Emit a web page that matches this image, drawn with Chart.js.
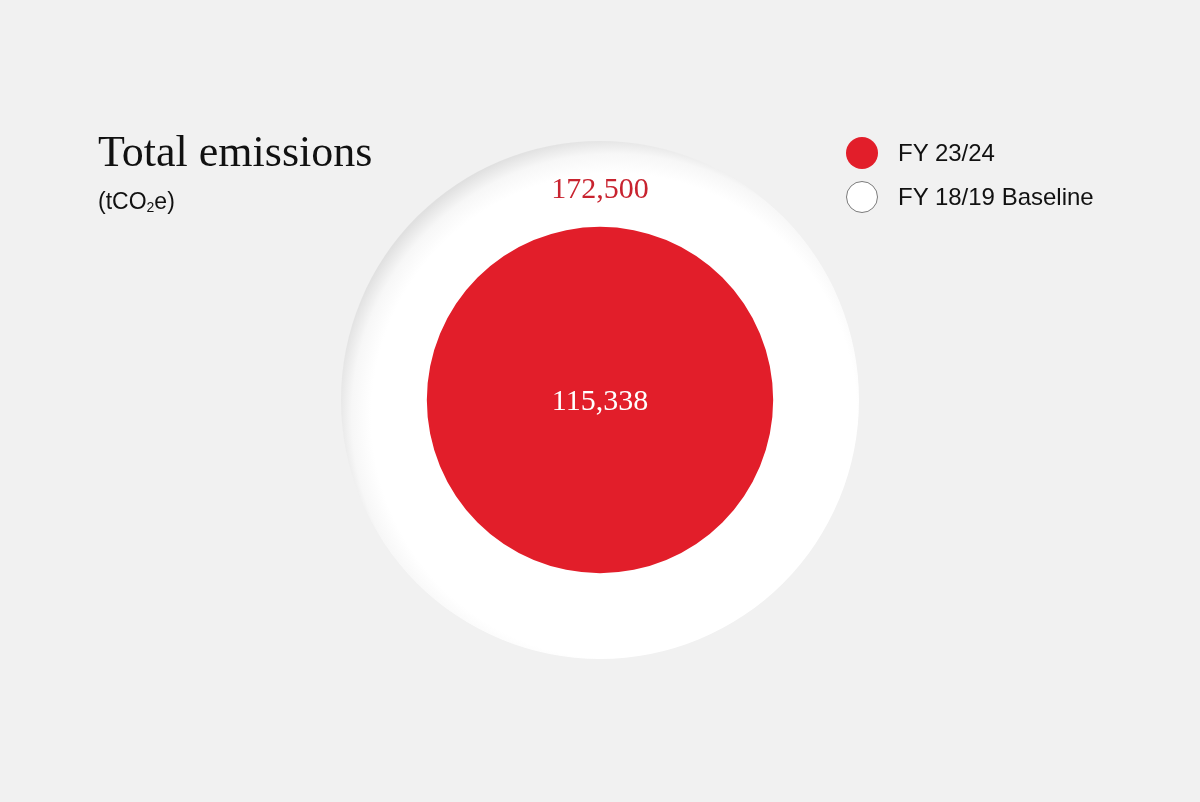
<!DOCTYPE html>
<html>
<head>
<meta charset="utf-8">
<script src="https://cdn.jsdelivr.net/npm/chart.js@4"></script>
<style>
  html, body { margin: 0; padding: 0; background: #f1f1f1; }
  #wrap { position: relative; width: 1200px; height: 802px; }
  #wrap canvas { position: absolute; left: 0; top: 0; }
  .title { position: absolute; left: 98px; top: 126px; font-family: 'Liberation Serif', serif; font-size: 44px; color: #111; }
  .unit { position: absolute; left: 98px; top: 188px; font-family: 'Liberation Sans', Arial, sans-serif; font-size: 23px; color: #111; }
  .unit sub { font-size: 14px; vertical-align: -3px; }
  .legend { position: absolute; left: 846px; top: 137px; font-family: 'Liberation Sans', Arial, sans-serif; font-size: 24px; color: #111; }
  .legend div { height: 44px; display: flex; align-items: flex-start; }
  .legend i { display: inline-block; width: 32px; height: 32px; border-radius: 50%; box-sizing: border-box; margin-right: 20px; }
  .legend span { line-height: 32px; }
</style>
</head>
<body>
<div id="wrap">
  <canvas id="chart" width="1200" height="802"></canvas>
  <div class="title">Total emissions</div>
  <div class="unit">(tCO<sub>2</sub>e)</div>
  <div class="legend" id="legend"></div>
</div>
<script>
// --- data ---
const seriesLabels = ['FY 23/24', 'FY 18/19 Baseline'];
const seriesValues = [115338, 172500];
const seriesColors = ['#e21e2a', '#ffffff'];
const legendBorders = ['#e21e2a', '#7a7a7a'];
const valueColors = ['#ffffff', '#c8232f'];

// legend (html)
const legendEl = document.getElementById('legend');
seriesLabels.forEach((lab, i) => {
    const row = document.createElement('div');
    row.innerHTML = `<i style="background:${seriesColors[i]};border:${i === 0 ? 0 : 1.5}px solid ${legendBorders[i]}"></i><span>${lab}</span>`;
    legendEl.appendChild(row);
});

// white disc gets a soft inset shade on its upper-left edge
function discFill(c) {
    const i = c.datasetIndex;
    if (seriesColors[i] !== '#ffffff') return seriesColors[i];
    const scale = c.chart.scales.r;
    if (!scale || !scale.drawingArea) return seriesColors[i];
    const r = scale.getDistanceFromCenterForValue(seriesValues[i]);
    const cx = scale.xCenter + 14, cy = scale.yCenter + 16;
    const g = c.chart.ctx.createRadialGradient(cx, cy, 0, cx, cy, r + 20);
    g.addColorStop(0, '#ffffff');
    g.addColorStop(0.87, '#ffffff');
    g.addColorStop(0.94, '#f7f7f7');
    g.addColorStop(1, '#e0e0e0');
    return g;
}

const valueLabels = {
    id: 'valueLabels',
    afterDatasetsDraw(chart) {
        const { ctx } = chart;
        const scale = chart.scales.r;
        const rInner = scale.getDistanceFromCenterForValue(seriesValues[0]);
        const rOuter = scale.getDistanceFromCenterForValue(seriesValues[1]);
        ctx.save();
        ctx.font = "30px 'Liberation Serif', serif";
        ctx.textAlign = 'center';
        ctx.textBaseline = 'middle';
        ctx.fillStyle = valueColors[0];
        ctx.fillText(seriesValues[0].toLocaleString('en-US'), scale.xCenter, scale.yCenter + 2);
        ctx.fillStyle = valueColors[1];
        ctx.fillText(seriesValues[1].toLocaleString('en-US'), scale.xCenter, scale.yCenter - (rInner + rOuter) / 2 + 6);
        ctx.restore();
    }
};

new Chart(document.getElementById('chart'), {
    type: 'polarArea',
    data: {
        labels: ['Total emissions'],
        datasets: seriesLabels.map((lab, i) => ({
            label: lab,
            data: [seriesValues[i]],
            backgroundColor: discFill,
            borderWidth: 0
        }))
    },
    options: {
        responsive: false,
        animation: false,
        layout: { padding: { top: 141, bottom: 143 } },
        plugins: { legend: { display: false }, tooltip: { enabled: false } },
        scales: {
            r: {
                min: 0,
                max: Math.max(...seriesValues),
                ticks: { display: false },
                grid: { display: false },
                angleLines: { display: false },
                pointLabels: { display: false }
            }
        }
    },
    plugins: [valueLabels]
});
</script>
</body>
</html>
